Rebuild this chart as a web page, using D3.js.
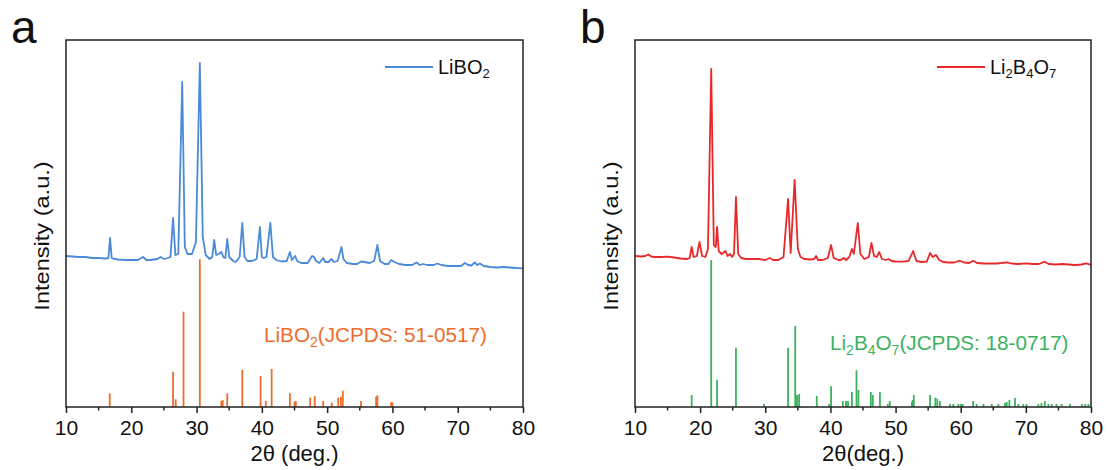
<!DOCTYPE html>
<html lang="en">
<head>
<meta charset="UTF-8">
<script src="https://cdn.jsdelivr.net/npm/d3@7/dist/d3.min.js"></script>
<title>XRD</title>
<style>
    body, html{
        margin: 0;
        padding: 0;
        background: #fff;
    }
    #chart{
        width: 1107px;
        height: 470px;
    }
</style>
</head>
<body>
<div id="chart"></div>
<script>

// data: 2theta (deg) vs intensity (a.u.)
const xTicks = [10, 20, 30, 40, 50, 60, 70, 80]

// measured LiBO2 pattern
const libo2Pattern = [
    [10,151],[11,150.5],[12,150],[13,150],[14,149],[15,149],[16,148.5],[16.5,149],[16.75,169],[17.0,149],
    [17.4,148],[18,147.5],[19,147],[20,147],[21,147],[21.8,150],[22.3,147],[23,147],[24,148],[24.5,150],
    [25,148],[25.6,149],[26.0,150],[26.4,189],[26.75,152],[27.2,153],[27.8,325],[28.2,160],[28.6,153],
    [29.3,153],[29.9,165],[30.5,344],[30.95,170],[31.4,152],[32.0,148],[32.4,150],[32.7,167],[33.0,152],
    [33.4,153],[33.8,155],[34.1,150],[34.4,149],[34.7,168],[35.0,150],[35.6,146],[36.0,145],[36.6,150],
    [37.0,184],[37.35,150],[37.8,146],[38.5,146],[39.2,148],[39.7,180],[40.0,150],[40.3,149],[40.7,150],
    [41.3,184],[41.7,150],[42.2,147],[43,145.5],[43.8,146],[44.3,155],[44.6,147],[45.1,151],[45.4,146],
    [46,144],[47,144],[47.4,148],[47.7,151],[48.0,150],[48.3,146],[48.8,144],[49.4,149],[49.7,145],
    [50.2,145],[50.7,148],[51.0,145],[51.6,146],[52.2,160],[52.5,148],[53,144],[54,143],[54.6,143],
    [55.2,145.5],[55.7,145],[56.5,144],[57.2,146],[57.7,162],[58.1,146],[58.8,143],[59.4,143],[59.8,147],
    [60.3,145],[61,143],[62,142],[63,142],[63.7,144.5],[64.2,142],[64.7,143],[65.3,142],[66.3,142],
    [66.9,143.5],[67.5,142],[68.5,141],[69.5,141],[70.5,141],[71.1,144],[71.6,142],[72.1,141.5],
    [72.6,144.5],[73.0,142],[73.4,143.5],[74,141],[75,140],[76,139.5],[77,140],[78,139.5],[79,139],[80,138.7]
]

// LiBO2 JCPDS 51-0517 reference lines
const libo2Ref = [
    [16.7,13.7],[26.4,35.3],[26.8,7.7],[28.0,95.3],[30.5,147.7],[33.8,6],[34.0,7],[34.7,13.7],
    [37.0,37],[39.8,31],[40.6,6],[41.5,38],[44.3,13.7],[45.0,5.3],[45.2,6],[47.4,9.3],[48.1,11],
    [49.4,6],[50.7,4.3],[51.7,9.3],[52.1,10.3],[52.4,16.3],[55.2,6],[57.5,10.3],[57.7,11.7],
    [59.8,4.7],[60.0,4.7]
]

// measured Li2B4O7 pattern
const lbo7Pattern = [
    [10,151],[11,150.5],[11.6,151],[12.05,152.5],[12.5,150.5],[13,150],[14,150],[15,150.3],[16,149.5],
    [17,148.5],[18,148],[18.4,149],[18.7,160],[19.0,150],[19.5,151],[19.9,165],[20.3,151],[20.8,150],
    [21.2,158],[21.7,338],[22.1,162],[22.4,160],[22.6,180],[22.85,156],[23.3,153],[23.9,156],[24.2,151],
    [24.6,153],[24.9,150],[25.2,153],[25.5,210],[25.85,153],[26.3,149],[27,148],[28,148],[29,148],
    [30,147],[30.7,149],[31.2,147],[32,147],[32.8,150],[33.5,208],[33.9,154],[34.5,227],[35.0,158],
    [35.4,150],[36,148],[37,147.5],[37.5,148],[37.8,151],[38.1,147],[38.8,147],[39.6,149],[40.1,162],
    [40.5,149],[41.2,147],[41.6,147],[42.0,149],[42.4,147],[42.9,150],[43.3,158],[43.6,153],[44.2,184],
    [44.6,153],[45.2,148],[45.9,150],[46.3,164],[46.7,151],[47.1,150],[47.5,155],[47.9,148],[48.5,147],
    [48.9,148],[49.4,146],[50,145.5],[51,145.3],[52,146],[52.7,156],[53.2,146],[54,145],[54.8,145.5],
    [55.3,154],[55.7,150],[56.2,152],[56.7,147],[57.3,145],[58,144.5],[59,144.5],[59.9,146.3],[60.5,144.5],
    [61.3,144],[61.9,146.3],[62.5,144],[63.5,143.5],[64.5,143.5],[65.5,143.5],[66.3,144],[67.1,144.7],
    [67.8,143.5],[68.8,143],[70.1,143.7],[71,143],[72,143],[72.9,145.3],[73.5,143],[74.5,142.5],
    [75.7,143],[76.5,142.5],[77.5,142],[78.5,142.5],[79.3,143.7],[80,142]
]

// Li2B4O7 JCPDS 18-0717 reference lines
const lbo7Ref = [
    [18.7,12],[21.7,147],[22.6,27],[25.5,59.3],[29.8,3],[33.5,59.3],[34.6,81],[34.7,11],[34.9,12],
    [35.2,13],[37.9,11],[39.8,3],[40.1,20.7],[41.9,6],[42.4,6],[42.7,6],[43.3,15],[44.0,36.7],
    [44.3,17],[46.2,15],[46.5,12],[47.6,15],[48.8,3],[49.1,6],[52.5,5],[52.6,7],[52.8,12],[55.3,12],
    [56.1,9.3],[56.4,8.3],[56.8,6],[58.36,3],[58.87,3],[59.64,3],[60.05,3],[60.3,3],[61.9,6],[62.45,3],
    [63.5,3],[64.76,3],[65.78,3],[66.8,4],[67.06,5],[67.47,7],[68.34,9],[68.85,3],[69.6,3],[70.1,3],
    [71.9,3],[72.4,4],[72.9,6],[73.45,3],[73.96,3],[74.7,3],[75.5,3],[76.8,3],[78.6,3],[79.1,3],[79.6,3]
]

const FONT = "'Liberation Sans', Arial, sans-serif"

const svg = d3.select("#chart").append("svg")
    .attr("width", 1107).attr("height", 470)
    .style("font-family", FONT)

// text with subscripts: parts = [[string, isSub], ...]
const subText = (sel, parts, size, subSize, shift) => {
    let prevSub = false
    parts.forEach(p => {
        const t = sel.append("tspan").text(p[0]).attr("font-size", p[1] ? subSize : size)
        if (p[1] && !prevSub) t.attr("dy", shift)
        if (!p[1] && prevSub) t.attr("dy", -shift)
        prevSub = p[1]
    })
}

const drawPanel = (opt) => {
    const x = d3.scaleLinear().domain([10, 80]).range([opt.left, opt.right])
    const y = d3.scaleLinear().domain([0, 367]).range([407, 40])
    const g = svg.append("g")

    const clipId = "clip-" + opt.tag
    svg.append("defs").append("clipPath").attr("id", clipId)
        .append("rect").attr("x", opt.left).attr("y", 40)
        .attr("width", opt.right - opt.left).attr("height", 367)

    // reference sticks
    g.append("g").attr("clip-path", `url(#${clipId})`)
        .selectAll("line").data(opt.ref).enter().append("line")
        .attr("x1", d => x(d[0])).attr("x2", d => x(d[0]))
        .attr("y1", y(0)).attr("y2", d => y(d[1]))
        .attr("stroke", opt.refColor).attr("stroke-width", 1.8)

    // measured curve
    const line = d3.line().x(d => x(d[0])).y(d => y(d[1]))
    g.append("path").datum(opt.pattern)
        .attr("clip-path", `url(#${clipId})`)
        .attr("d", line).attr("fill", "none")
        .attr("stroke", opt.color).attr("stroke-width", 1.8)
        .attr("stroke-linejoin", "round")

    // bottom axis with minor ticks
    const axis = d3.axisBottom(x).tickValues(xTicks).tickSize(6).tickPadding(7).tickFormat(d3.format("d"))
    const ax = g.append("g").attr("transform", `translate(0,${y(0)})`).call(axis)
    ax.select(".domain").remove()
    ax.selectAll("line").attr("stroke", "#222").attr("stroke-width", 1.5)
    ax.selectAll("text").attr("fill", "#111").attr("font-size", 21).attr("font-family", FONT)
    g.append("g").attr("transform", `translate(0,${y(0)})`)
        .selectAll("line").data(d3.range(15, 80, 10)).enter().append("line")
        .attr("x1", d => x(d)).attr("x2", d => x(d)).attr("y1", 0).attr("y2", 3.5)
        .attr("stroke", "#222").attr("stroke-width", 1.5)

    // frame
    g.append("rect").attr("x", opt.left).attr("y", 40)
        .attr("width", opt.right - opt.left).attr("height", 367)
        .attr("fill", "none").attr("stroke", "#222").attr("stroke-width", 1.5)

    // axis titles
    g.append("text").attr("x", (opt.left + opt.right) / 2).attr("y", 461)
        .attr("text-anchor", "middle").attr("font-size", 22).attr("fill", "#111")
        .text(opt.xTitle)
    g.append("text").attr("transform", `translate(${opt.left - 24},236) rotate(-90) scale(1.15,1)`)
        .attr("text-anchor", "middle").attr("dy", "0.35em").attr("font-size", 20.5).attr("fill", "#111")
        .text("Intensity (a.u.)")

    // panel letter
    g.append("text").attr("x", opt.left - 55).attr("y", 43)
        .attr("font-size", 46).attr("fill", "#111").text(opt.tag)

    // legend
    g.append("line").attr("x1", opt.legX).attr("x2", opt.legX + 48)
        .attr("y1", 67).attr("y2", 67).attr("stroke", opt.color).attr("stroke-width", 1.8)
    const lt = g.append("text").attr("x", opt.legX + 53).attr("y", 74).attr("fill", "#111")
    subText(lt, opt.label, 20, 13, 4)

    // reference annotation
    const rt = g.append("text").attr("x", opt.refX).attr("y", opt.refY).attr("fill", opt.refColor)
    subText(rt, opt.refLabel, 20.7, 14, 5)
}

drawPanel({
    tag: "a", left: 66, right: 523,
    pattern: libo2Pattern, ref: libo2Ref,
    color: "#4a8ad8", refColor: "#ee6d2c",
    xTitle: "2\u03b8 (deg.)",
    legX: 385, label: [["LiBO", 0], ["2", 1]],
    refX: 264, refY: 342, refLabel: [["LiBO", 0], ["2", 1], ["(JCPDS: 51-0517)", 0]]
})

drawPanel({
    tag: "b", left: 635, right: 1091,
    pattern: lbo7Pattern, ref: lbo7Ref,
    color: "#e8292b", refColor: "#3cb25e",
    xTitle: "2\u03b8(deg.)",
    legX: 937, label: [["Li", 0], ["2", 1], ["B", 0], ["4", 1], ["O", 0], ["7", 1]],
    refX: 830, refY: 350, refLabel: [["Li", 0], ["2", 1], ["B", 0], ["4", 1], ["O", 0], ["7", 1], ["(JCPDS: 18-0717)", 0]]
})

</script>
</body>
</html>
